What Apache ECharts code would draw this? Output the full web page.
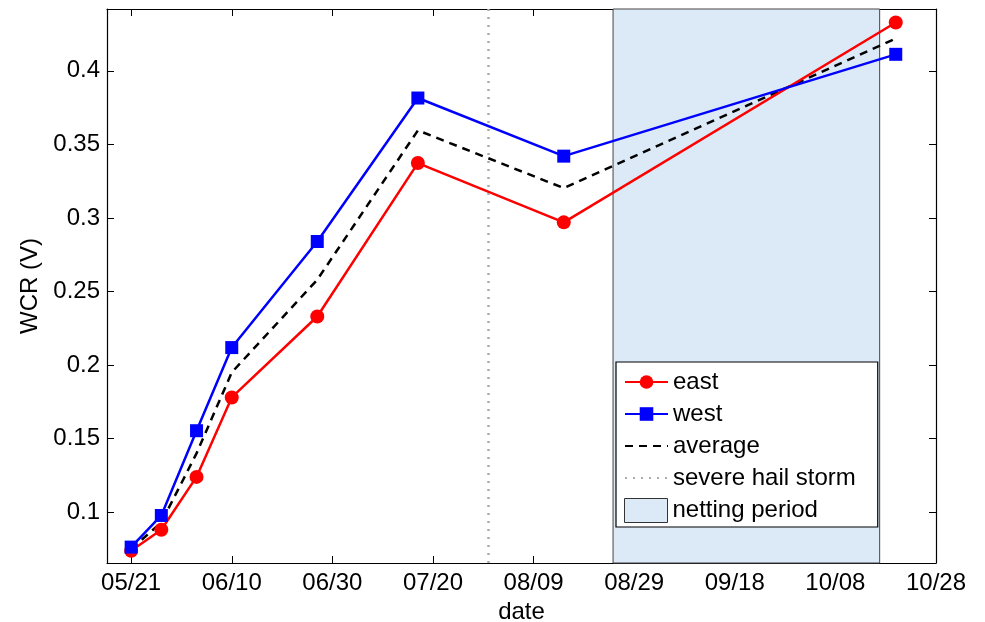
<!DOCTYPE html>
<html>
<head>
<meta charset="utf-8">
<script src="https://cdn.jsdelivr.net/npm/echarts@6/dist/echarts.min.js"></script>
<style>
    html, body { margin: 0; padding: 0; background: #fff; }
    #chart_stat { width: 985px; height: 622px; }
</style>
</head>
<body>
<div id="chart_stat"></div>
<script>
    // days counted from 05/21
    var days = [0, 6, 13, 20, 37, 57, 86, 152];
    var eastVals = [0.0738, 0.0881, 0.124, 0.178, 0.233, 0.3373, 0.297, 0.4328];
    var westVals = [0.0763, 0.0978, 0.1554, 0.2119, 0.284, 0.3815, 0.342, 0.4112];
    var avgVals = [0.075, 0.093, 0.140, 0.195, 0.258, 0.3595, 0.3203, 0.422];

    var xTickDays = [0, 20, 40, 60, 80, 100, 120, 140, 160];
    var xTickLabels = ['05/21', '06/10', '06/30', '07/20', '08/09', '08/29', '09/18', '10/08', '10/28'];
    var yTicks = [0.1, 0.15, 0.2, 0.25, 0.3, 0.35, 0.4];

    var hailDay = 71;
    var nettingDays = [95.8, 148.8];

    var xMin = -4.8, xMax = 160;
    var yMin = 0.0655, yMax = 0.442;

    function pairs(vals) {
        return days.map(function (d, i) { return [d, vals[i]]; });
    }

    var font = 'Liberation Sans, Arial, sans-serif';
    var chart = echarts.init(document.getElementById('chart_stat'));

    var axisX = function (pos, showLabel) {
        return {
            type: 'value',
            position: pos,
            min: xMin,
            max: xMax,
            splitLine: {show: false},
            axisLine: {show: true, onZero: false, lineStyle: {color: '#000', width: 1.2}},
            axisTick: {show: true, inside: true, length: 7, customValues: xTickDays, lineStyle: {color: '#000'}},
            axisLabel: {
                show: showLabel,
                customValues: xTickDays,
                margin: 8,
                color: '#000',
                fontSize: 24,
                fontFamily: font,
                formatter: function (v) {
                    var i = xTickDays.indexOf(v);
                    return i < 0 ? '' : xTickLabels[i];
                }
            },
            name: showLabel ? 'date' : '',
            nameLocation: 'middle',
            nameGap: 33,
            nameTextStyle: {color: '#000', fontSize: 24, fontFamily: font}
        };
    };
    var axisY = function (pos, showLabel) {
        return {
            type: 'value',
            position: pos,
            min: yMin,
            max: yMax,
            splitLine: {show: false},
            axisLine: {show: true, onZero: false, lineStyle: {color: '#000', width: 1.2}},
            axisTick: {show: true, inside: true, length: 7, customValues: yTicks, lineStyle: {color: '#000'}},
            axisLabel: {
                show: showLabel,
                customValues: yTicks,
                margin: 7,
                color: '#000',
                fontSize: 24,
                fontFamily: font
            },
            name: showLabel ? 'WCR (V)' : '',
            nameLocation: 'middle',
            nameGap: 63,
            nameTextStyle: {color: '#000', fontSize: 24, fontFamily: font}
        };
    };

    var noSymbol = {opacity: 0};

    var option = {
        animation: false,
        backgroundColor: '#fff',
        grid: {left: 107, top: 9, right: 49, bottom: 59, containLabel: false, outerBoundsMode: 'none'},
        xAxis: [axisX('bottom', true), axisX('top', false)],
        yAxis: [axisY('left', true), axisY('right', false)],
        legend: [
            {
                orient: 'vertical',
                left: 616,
                top: 362,
                padding: [8, 22, 37, 8],
                itemGap: 8,
                itemWidth: 43,
                itemHeight: 17,
                backgroundColor: '#fff',
                borderColor: '#000',
                borderWidth: 1.2,
                borderRadius: 0,
                z: 10,
                selectedMode: false,
                textStyle: {color: '#000', fontSize: 24, lineHeight: 24, fontFamily: font},
                data: [
                    'east',
                    'west',
                    {name: 'average', itemStyle: noSymbol},
                    {name: 'severe hail storm', itemStyle: noSymbol}
                ]
            },
            {
                orient: 'vertical',
                left: 616,
                top: 498,
                padding: [0, 8, 0, 8],
                itemWidth: 43,
                itemHeight: 24,
                z: 11,
                selectedMode: false,
                textStyle: {color: '#000', fontSize: 24, lineHeight: 24, fontFamily: font},
                data: [{
                    name: 'netting period',
                    icon: 'rect',
                    itemStyle: {color: '#dceaf8', borderColor: '#333', borderWidth: 1}
                }]
            }
        ],
        series: [
            {
                name: 'netting period',
                type: 'line',
                data: [],
                itemStyle: {color: '#dceaf8'},
                markArea: {
                    silent: true,
                    itemStyle: {color: '#dceaf8', borderColor: '#444', borderWidth: 1},
                    data: [[{xAxis: nettingDays[0]}, {xAxis: nettingDays[1]}]]
                }
            },
            {
                name: 'severe hail storm',
                type: 'line',
                data: [],
                symbol: 'none',
                itemStyle: {color: '#aaaaaa'},
                lineStyle: {color: '#aaaaaa', width: 2.5, type: [2, 6]},
                markLine: {
                    silent: true,
                    symbol: 'none',
                    label: {show: false},
                    lineStyle: {color: '#aaaaaa', width: 2.5, type: [2, 6]},
                    data: [{xAxis: hailDay}]
                }
            },
            {
                name: 'average',
                type: 'line',
                data: pairs(avgVals),
                symbol: 'none',
                itemStyle: {color: '#000'},
                lineStyle: {color: '#000', width: 2.5, type: [8, 6]},
                z: 3
            },
            {
                name: 'east',
                type: 'line',
                data: pairs(eastVals),
                symbol: 'circle',
                symbolSize: 14,
                itemStyle: {color: '#ff0000'},
                lineStyle: {color: '#ff0000', width: 2.5},
                z: 4
            },
            {
                name: 'west',
                type: 'line',
                data: pairs(westVals),
                symbol: 'rect',
                symbolSize: 13,
                itemStyle: {color: '#0000ff'},
                lineStyle: {color: '#0000ff', width: 2.5},
                z: 5
            }
        ]
    };
    chart.setOption(option);
</script>
</body>
</html>
